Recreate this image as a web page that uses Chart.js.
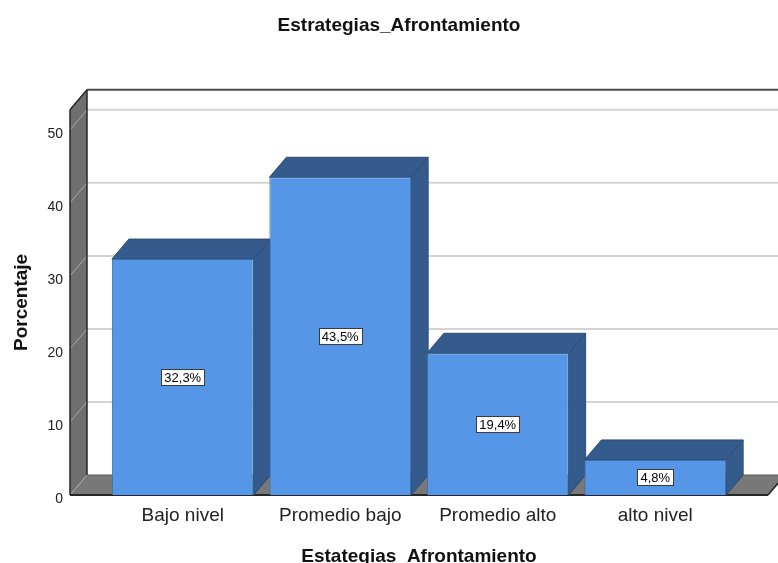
<!DOCTYPE html>
<html>
<head>
<meta charset="utf-8">
<script src="https://cdn.jsdelivr.net/npm/chart.js@4.4.1/dist/chart.umd.min.js"></script>
<style>
  html, body { margin: 0; padding: 0; background: #ffffff; overflow: hidden; }
  canvas { display: block; }
</style>
</head>
<body>
<canvas id="chart" width="778" height="563"></canvas>
<script>
// Porcentaje por nivel de estrategias de afrontamiento
const categories = ["Bajo nivel", "Promedio bajo", "Promedio alto", "alto nivel"];
const percentages = [32.3, 43.5, 19.4, 4.8];
const yTicks = [0, 10, 20, 30, 40, 50];
const yTitle = 'Porcentaje';

const FONT = "'Liberation Sans', Arial, Helvetica, sans-serif";

// Depth of the 3D box (pixels to the back plane)
const DX = 17;
const DY = -20;
// Distance from the first/last category slot to the front edges of the floor
const SIDE_GAP = 34;

const COLORS = {
  front: '#5596e6',
  frontBorder: '#3c6cab',
  dark: '#345b8c',
  darkEdge: '#2b4b75',
  wall: '#6f6f6f',
  floor: '#787878',
  edge: '#262626',
  grid: '#d4d4d4',
  wallGrid: '#a9a9a9'
};

function poly(ctx, pts, fill, stroke, lw) {
  ctx.beginPath();
  ctx.moveTo(pts[0][0], pts[0][1]);
  for (let i = 1; i < pts.length; i++) ctx.lineTo(pts[i][0], pts[i][1]);
  ctx.closePath();
  if (fill) { ctx.fillStyle = fill; ctx.fill(); }
  if (stroke) { ctx.strokeStyle = stroke; ctx.lineWidth = lw || 1; ctx.stroke(); }
}

function line(ctx, x1, y1, x2, y2, color, lw) {
  ctx.beginPath();
  ctx.moveTo(x1, y1);
  ctx.lineTo(x2, y2);
  ctx.strokeStyle = color;
  ctx.lineWidth = lw;
  ctx.stroke();
}

// Walls, floor, back gridlines and the top/side faces of the bars
const box3d = {
  id: 'box3d',
  beforeDatasetsDraw(chart) {
    const { ctx, chartArea: a, scales: { y } } = chart;
    const W = chart.width;
    const FL = a.left - SIDE_GAP;
    const FR = a.right + SIDE_GAP;
    const y0 = y.getPixelForValue(0);
    const yTop = y.getPixelForValue(yTicks[yTicks.length - 1]) + DY;

    ctx.save();
    // left wall
    poly(ctx, [[FL, y0], [FL + DX, y0 + DY], [FL + DX, yTop + DY], [FL, yTop]], COLORS.wall);
    // floor
    poly(ctx, [[FL, y0], [FR, y0], [FR + DX, y0 + DY], [FL + DX, y0 + DY]], COLORS.floor);

    // gridlines on the wall and the back plane
    y.ticks.forEach(t => {
      const py = y.getPixelForValue(t.value);
      line(ctx, FL, py, FL + DX, py + DY, COLORS.wallGrid, 1);
      if (t.value !== 0) line(ctx, FL + DX, py + DY, W, py + DY, COLORS.grid, 2);
    });

    // frame edges
    line(ctx, FL + DX, yTop + DY, W, yTop + DY, '#4a4a4a', 2);
    line(ctx, FL, yTop, FL + DX, yTop + DY, COLORS.edge, 1.5);
    line(ctx, FL + DX, yTop + DY, FL + DX, y0 + DY, COLORS.edge, 1.5);
    line(ctx, FL, yTop, FL, y0, COLORS.edge, 1.5);
    line(ctx, FL + DX, y0 + DY, W, y0 + DY, '#5a5a5a', 1);
    line(ctx, FR, y0, FR + DX, y0 + DY, COLORS.edge, 1.5);
    line(ctx, FL, y0, FR, y0, COLORS.edge, 2);

    // bar tops and right sides
    const meta = chart.getDatasetMeta(0);
    meta.data.forEach(bar => {
      const { x, y: yt, base, width } = bar.getProps(['x', 'y', 'base', 'width'], true);
      const xl = x - width / 2;
      const xr = x + width / 2;
      poly(ctx, [[xr, yt], [xr + DX, yt + DY], [xr + DX, base + DY], [xr, base]], COLORS.dark, COLORS.darkEdge, 1);
      poly(ctx, [[xl, yt], [xr, yt], [xr + DX, yt + DY], [xl + DX, yt + DY]], COLORS.dark, COLORS.darkEdge, 1);
    });
    ctx.restore();
  },
  afterDatasetsDraw(chart) {
    const { ctx } = chart;
    const meta = chart.getDatasetMeta(0);
    const values = chart.data.datasets[0].data;
    ctx.save();
    ctx.font = '13px ' + FONT;
    ctx.textAlign = 'center';
    ctx.textBaseline = 'middle';
    meta.data.forEach((bar, i) => {
      const { x, y: yt, base } = bar.getProps(['x', 'y', 'base'], true);
      const text = values[i].toFixed(1).replace('.', ',') + '%';
      const tw = ctx.measureText(text).width;
      const bw = Math.round(tw + 6);
      const bh = 16;
      const cy = Math.round((yt + base) / 2);
      const bx = Math.round(x - bw / 2) + 0.5;
      const by = Math.round(cy - bh / 2) + 0.5;
      ctx.fillStyle = '#ffffff';
      ctx.fillRect(bx, by, bw, bh);
      ctx.strokeStyle = '#3a3a3a';
      ctx.lineWidth = 1;
      ctx.strokeRect(bx, by, bw, bh);
      ctx.fillStyle = '#000000';
      ctx.fillText(text, x, cy + 1);
    });
    ctx.restore();
  },
  afterDraw(chart) {
    // y axis title, centred on the front edge of the left wall
    const { ctx, scales: { y } } = chart;
    const y0 = y.getPixelForValue(0);
    const yTop = y.getPixelForValue(yTicks[yTicks.length - 1]) + DY;
    ctx.save();
    ctx.translate(22, (y0 + yTop) / 2);
    ctx.rotate(-Math.PI / 2);
    ctx.font = 'bold 19px ' + FONT;
    ctx.fillStyle = '#111111';
    ctx.textAlign = 'center';
    ctx.textBaseline = 'middle';
    ctx.fillText(yTitle, 0, 0);
    ctx.restore();
  }
};

new Chart(document.getElementById('chart'), {
  type: 'bar',
  data: {
    labels: categories,
    datasets: [{
      data: percentages,
      backgroundColor: COLORS.front,
      borderColor: COLORS.frontBorder,
      borderWidth: 1,
      categoryPercentage: 0.9,
      barPercentage: 1.0
    }]
  },
  options: {
    responsive: false,
    animation: false,
    layout: { padding: { left: 20, right: 0, top: 0, bottom: 0 } },
    plugins: {
      legend: { display: false },
      tooltip: { enabled: false },
      title: {
        display: true,
        text: 'Estrategias_Afrontamiento',
        color: '#111111',
        font: { family: FONT, size: 19, weight: 'bold', lineHeight: 1.2 },
        padding: { top: 14, bottom: 93 }
      }
    },
    scales: {
      x: {
        type: 'category',
        grid: { display: false, drawTicks: false },
        border: { display: false },
        ticks: {
          color: '#222222',
          padding: 9,
          font: { family: FONT, size: 19 }
        },
        title: {
          display: true,
          text: 'Estategias_Afrontamiento',
          color: '#111111',
          font: { family: FONT, size: 19, weight: 'bold', lineHeight: 1 },
          padding: { top: 0, bottom: -3 }
        },
        afterFit(s) { s.height = 68; }
      },
      y: {
        type: 'linear',
        min: yTicks[0],
        max: yTicks[yTicks.length - 1],
        afterBuildTicks(s) { s.ticks = yTicks.map(v => ({ value: v })); },
        grid: { display: false, drawTicks: false },
        border: { display: false },
        ticks: {
          color: '#222222',
          padding: 41,
          labelOffset: 4,
          font: { family: FONT, size: 14 }
        },
        afterFit(s) { s.width = 84; }
      },
      pad: {
        type: 'linear',
        position: 'right',
        display: true,
        grid: { display: false, drawTicks: false },
        border: { display: false },
        ticks: { display: false },
        afterFit(s) { s.width = 44; }
      }
    }
  },
  plugins: [box3d]
});
</script>
</body>
</html>
